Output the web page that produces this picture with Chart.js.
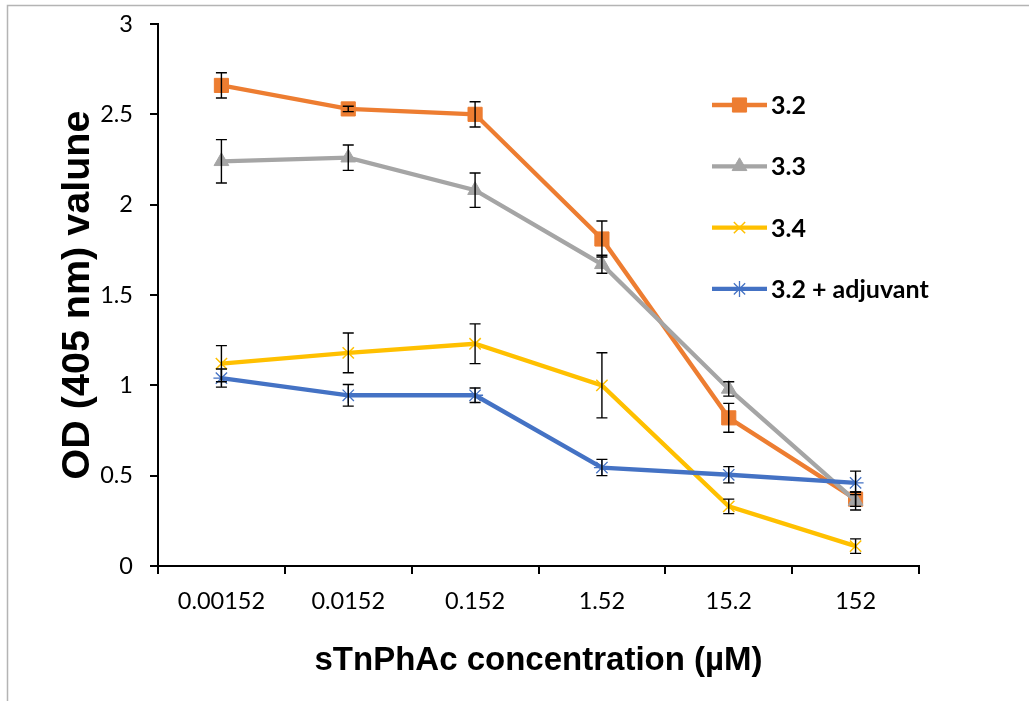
<!DOCTYPE html>
<html>
<head>
<meta charset="utf-8">
<title>OD vs sTnPhAc concentration</title>
<script src="https://cdn.jsdelivr.net/npm/chart.js@4.4.1/dist/chart.umd.min.js"></script>
<style>
  html, body { margin: 0; padding: 0; background: #fff; }
  #wrap { width: 1029px; height: 701px; }
</style>
</head>
<body>
<div id="wrap"><canvas id="odChart" width="1029" height="701"></canvas></div>
<script>
// values
const concentrations = ['0.00152', '0.0152', '0.152', '1.52', '15.2', '152'];
const seriesNames = ['3.2', '3.3', '3.4', '3.2 + adjuvant'];

const od32 = [2.66, 2.53, 2.50, 1.81, 0.82, 0.37];
const err32 = [0.07, 0.015, 0.07, 0.10, 0.08, 0.04];

const od33 = [2.24, 2.26, 2.08, 1.67, 0.98, 0.36];
const err33 = [0.12, 0.07, 0.095, 0.05, 0.04, 0.05];

const od34 = [1.12, 1.18, 1.23, 1.00, 0.33, 0.11];
const err34 = [0.10, 0.11, 0.11, 0.18, 0.04, 0.04];

const odAdj = [1.04, 0.945, 0.945, 0.545, 0.505, 0.46];
const errAdj = [0.05, 0.06, 0.04, 0.045, 0.045, 0.065];

const yTicks = [0, 0.5, 1, 1.5, 2, 2.5, 3];

const tickFont = { family: 'Lato, sans-serif', size: 23.5 };
const titleFamily = "'Liberation Sans', Arial, sans-serif";

// grey frame round the figure (only top and left are visible)
const frame = {
    id: 'frame',
    beforeDraw(chart) {
        const ctx = chart.ctx;
        ctx.save();
        ctx.fillStyle = '#fff';
        ctx.fillRect(0, 0, chart.width, chart.height);
        ctx.strokeStyle = '#b4b4b4';
        ctx.lineWidth = 1.5;
        ctx.beginPath();
        ctx.moveTo(7.5, chart.height);
        ctx.lineTo(7.5, 5.5);
        ctx.lineTo(chart.width, 5.5);
        ctx.stroke();
        ctx.restore();
    }
};

const errorBars = {
    id: 'errorBars',
    afterDatasetsDraw(chart) {
        const ctx = chart.ctx;
        const xs = chart.scales.x;
        const ys = chart.scales.y;
        ctx.save();
        ctx.strokeStyle = '#000';
        ctx.lineWidth = 1.4;
        chart.data.datasets.forEach(ds => {
            ds.errors.forEach((e, j) => {
                const px = xs.getPixelForValue(j);
                const top = ys.getPixelForValue(ds.data[j] + e);
                const bot = ys.getPixelForValue(ds.data[j] - e);
                ctx.beginPath();
                ctx.moveTo(px, top);
                ctx.lineTo(px, bot);
                ctx.moveTo(px - 5.5, top);
                ctx.lineTo(px + 5.5, top);
                ctx.moveTo(px - 5.5, bot);
                ctx.lineTo(px + 5.5, bot);
                ctx.stroke();
            });
        });
        ctx.restore();
    }
};

// legend sits inside the plot on the right
const insideLegend = {
    id: 'insideLegend',
    afterDraw(chart) {
        const ctx = chart.ctx;
        const x0 = 712, x1 = 767, rowY = 105, rowGap = 61.3;
        ctx.save();
        chart.data.datasets.forEach((ds, i) => {
            const y = rowY + i * rowGap;
            ctx.strokeStyle = ds.borderColor;
            ctx.lineWidth = ds.borderWidth;
            ctx.beginPath();
            ctx.moveTo(x0, y);
            ctx.lineTo(x1, y);
            ctx.stroke();
            ctx.fillStyle = ds.backgroundColor;
            ctx.strokeStyle = ds.borderColor;
            ctx.lineWidth = ds.pointBorderWidth;
            Chart.helpers.drawPoint(ctx, {
                pointStyle: ds.pointStyle,
                radius: ds.pointRadius,
                rotation: 0,
                borderWidth: ds.pointBorderWidth
            }, (x0 + x1) / 2, y);
            ctx.fillStyle = '#000';
            ctx.font = 'bold 25px Lato, sans-serif';
            ctx.textAlign = 'left';
            ctx.textBaseline = 'middle';
            ctx.fillText(ds.label, x1 + 4, y + 1);
        });
        ctx.restore();
    }
};

const ctx = document.getElementById('odChart').getContext('2d');
new Chart(ctx, {
    type: 'line',
    data: {
        labels: concentrations,
        datasets: [
            {
                label: seriesNames[0], data: od32, errors: err32, order: 4,
                borderColor: '#ED7D31', backgroundColor: '#ED7D31', borderWidth: 4.3,
                pointStyle: 'rect', pointRadius: 10, pointBorderWidth: 1
            },
            {
                label: seriesNames[1], data: od33, errors: err33, order: 3,
                borderColor: '#A5A5A5', backgroundColor: '#A5A5A5', borderWidth: 4.3,
                pointStyle: 'triangle', pointRadius: 8.5, pointBorderWidth: 1
            },
            {
                label: seriesNames[2], data: od34, errors: err34, order: 2,
                borderColor: '#FFC000', backgroundColor: '#FFC000', borderWidth: 4.3,
                pointStyle: 'crossRot', pointRadius: 8, pointBorderWidth: 1.5
            },
            {
                label: seriesNames[3], data: odAdj, errors: errAdj, order: 1,
                borderColor: '#4472C4', backgroundColor: '#4472C4', borderWidth: 4.3,
                pointStyle: 'star', pointRadius: 8, pointBorderWidth: 1.3
            }
        ]
    },
    options: {
        responsive: false,
        animation: false,
        devicePixelRatio: 1,
        layout: { padding: { top: 24, right: 110, bottom: 0, left: 0 } },
        plugins: {
            legend: { display: false },
            tooltip: { enabled: false }
        },
        scales: {
            x: {
                offset: true,
                grid: { offset: true, drawOnChartArea: false, color: '#000', lineWidth: 2, tickLength: 8 },
                border: { color: '#000', width: 2 },
                ticks: { color: '#000', font: tickFont, padding: 13, maxRotation: 0, autoSkip: false },
                title: {
                    display: true,
                    text: 'sTnPhAc concentration (µM)',
                    color: '#000',
                    font: { family: titleFamily, size: 33, weight: 'bold' },
                    padding: { top: 0, bottom: 20 }
                },
                afterFit(scale) { scale.height = 135; }
            },
            y: {
                min: yTicks[0],
                max: yTicks[yTicks.length - 1],
                grid: { drawOnChartArea: false, color: '#000', lineWidth: 2, tickLength: 8 },
                border: { color: '#000', width: 2 },
                ticks: {
                    stepSize: yTicks[1] - yTicks[0],
                    color: '#000',
                    font: tickFont,
                    padding: 17,
                    callback: v => String(v)
                },
                title: {
                    display: true,
                    text: 'OD (405 nm) valune',
                    color: '#000',
                    font: { family: titleFamily, size: 39.5, weight: 'bold' },
                    padding: { top: 54, bottom: 0 }
                },
                afterFit(scale) {
                    scale.width = 158;
                    scale.paddingTop = 0;
                    scale.paddingBottom = 0;
                }
            }
        }
    },
    plugins: [frame, errorBars, insideLegend]
});
</script>
</body>
</html>
